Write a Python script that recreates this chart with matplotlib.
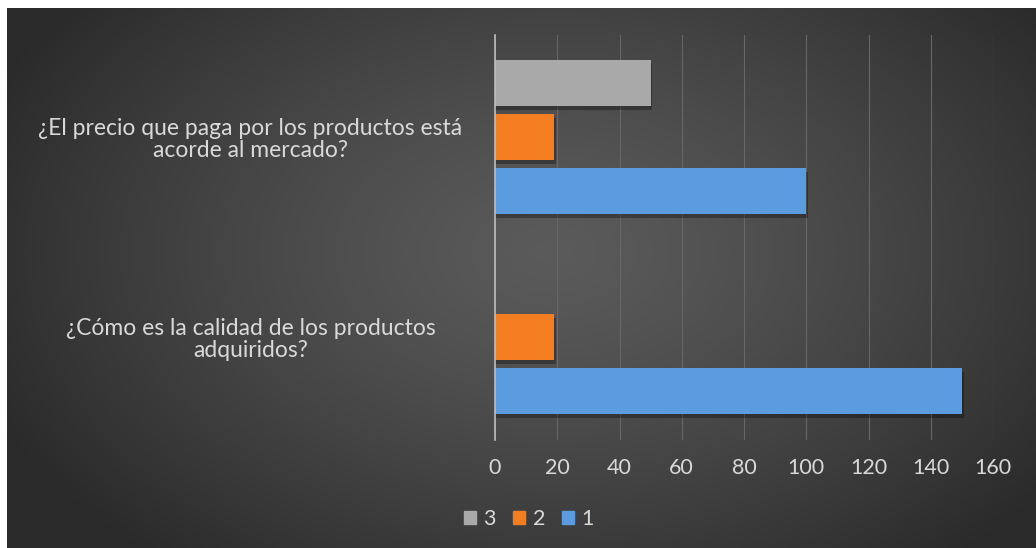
import numpy as np
import matplotlib.pyplot as plt
from matplotlib.patches import Patch

plt.rcParams['font.family'] = ['Lato', 'DejaVu Sans']

# Survey questions and response counts per answer option
preguntas = ['¿Cómo es la calidad de los productos\nadquiridos?',
             '¿El precio que paga por los productos está\nacorde al mercado?']
serie_1 = [150, 100]
serie_2 = [19, 19]
serie_3 = [0, 50]
ticks_x = [0, 20, 40, 60, 80, 100, 120, 140, 160]

color_1 = '#5b9ce0'
color_2 = '#f47d22'
color_3 = '#a9a9a9'
texto = '#d9d9d9'

fig = plt.figure(figsize=(10.36, 5.48), dpi=100)
fig.patch.set_facecolor('white')

# dark radial background
bg = fig.add_axes([7 / 1036, 0, 1 - 7 / 1036, 540 / 548])
bg.set_axis_off()
h, w = 270, 515
yy, xx = np.mgrid[0:h, 0:w]
r = np.sqrt(((xx - 0.53 * w) / (0.6 * w)) ** 2 + ((yy - 0.45 * h) / (0.75 * h)) ** 2)
r = np.clip(r, 0, 1)
val = 0.355 - (0.355 - 0.165) * r ** 1.3
bg.imshow(np.dstack([val, val, val]), aspect='auto', extent=[0, 1, 0, 1],
          interpolation='bicubic')
bg.set_xlim(0, 1)
bg.set_ylim(0, 1)

ax = fig.add_axes([495 / 1036, 108 / 548, (993 - 495) / 1036, (440 - 35) / 548])
ax.patch.set_alpha(0)

y = np.arange(len(preguntas))
alto = 0.23
paso = 0.27
sombra = 0.018
for off, vals, col in [(-paso, serie_1, color_1), (0, serie_2, color_2), (paso, serie_3, color_3)]:
    # soft shadow under each bar
    ax.barh(y + off - sombra, [v + 0.6 if v else 0 for v in vals], height=alto,
            color='black', alpha=0.3, linewidth=0, zorder=2)
    ax.barh(y + off, vals, height=alto, color=col, linewidth=0, zorder=3)

ax.set_xlim(0, 160)
ax.set_ylim(-0.515, 1.51)
ax.set_xticks(ticks_x)
ax.set_yticks(y)
ax.set_yticklabels(preguntas, ha='center', multialignment='center', linespacing=1.05)
ax.tick_params(axis='y', length=0, pad=176, labelsize=16.5, labelcolor=texto)
ax.tick_params(axis='x', length=0, pad=13, labelsize=15.5, labelcolor=texto)

ax.grid(axis='x', color='#676767', linewidth=0.8, zorder=0)
for s in ['top', 'right', 'bottom']:
    ax.spines[s].set_visible(False)
ax.spines['left'].set_color('#bdbdbd')
ax.spines['left'].set_linewidth(1.2)
ax.spines['left'].set_zorder(4)

handles = [Patch(color=color_3, label='3'),
           Patch(color=color_2, label='2'),
           Patch(color=color_1, label='1')]
fig.legend(handles=handles, loc='center', bbox_to_anchor=(529 / 1036, 1 - 519 / 548),
           ncol=3, frameon=False, fontsize=15.5, labelcolor=texto,
           handlelength=0.55, handleheight=0.55, handletextpad=0.35, columnspacing=0.8)

fig.savefig('out.png', dpi=100)
